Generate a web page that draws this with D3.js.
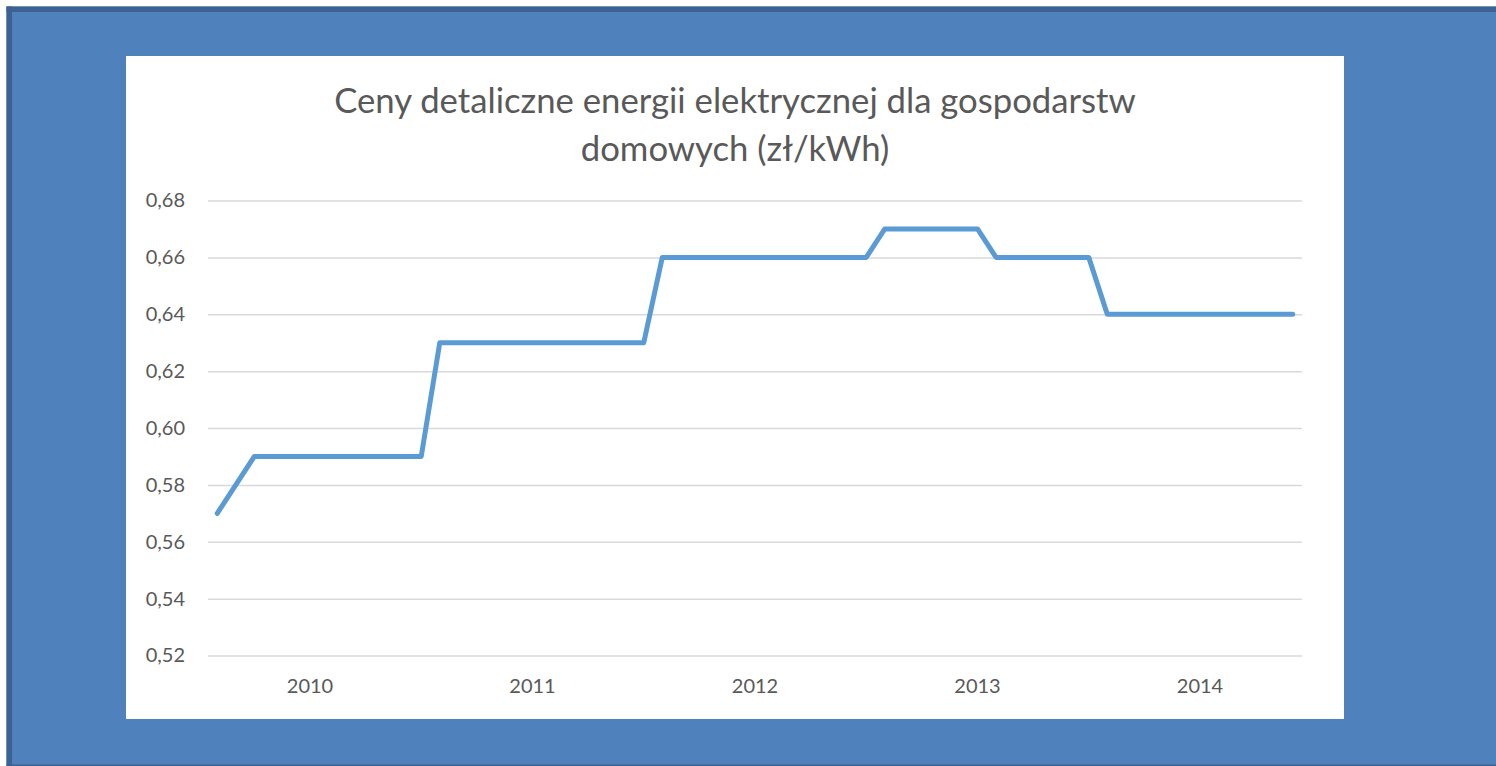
<!DOCTYPE html>
<html>
<head>
<meta charset="utf-8">
<script src="https://cdn.jsdelivr.net/npm/d3@7"></script>
<style>
  html, body { margin: 0; padding: 0; background: #ffffff; }
  svg { display: block; }
</style>
</head>
<body>
<svg id="chart" width="1496" height="766"></svg>
<script>
// ---- data ----
const titleLines = ["Ceny detaliczne energii elektrycznej dla gospodarstw", "domowych (zł/kWh)"];

// monthly categories (Jan 2010 .. Nov 2014); only one row per year carries a label
const categories = [
  "", "", "", "", "", "2010", "", "", "", "", "", "",
  "", "", "", "", "", "2011", "", "", "", "", "", "",
  "", "", "", "", "", "2012", "", "", "", "", "", "",
  "", "", "", "", "", "2013", "", "", "", "", "", "",
  "", "", "", "", "", "2014", "", "", "", "", ""
];

const prices = [
  0.57, 0.58, 0.59, 0.59, 0.59, 0.59, 0.59, 0.59, 0.59, 0.59, 0.59, 0.59,
  0.63, 0.63, 0.63, 0.63, 0.63, 0.63, 0.63, 0.63, 0.63, 0.63, 0.63, 0.63,
  0.66, 0.66, 0.66, 0.66, 0.66, 0.66, 0.66, 0.66, 0.66, 0.66, 0.66, 0.66,
  0.67, 0.67, 0.67, 0.67, 0.67, 0.67, 0.66, 0.66, 0.66, 0.66, 0.66, 0.66,
  0.64, 0.64, 0.64, 0.64, 0.64, 0.64, 0.64, 0.64, 0.64, 0.64, 0.64
];

const yTicks = [0.52, 0.54, 0.56, 0.58, 0.60, 0.62, 0.64, 0.66, 0.68];

// ---- drawing ----
const svg = d3.select("#chart");
const FONT = "Lato, 'Open Sans', 'Noto Sans', sans-serif";
const TEXT = "#595959";

// slide background
svg.append("rect").attr("x", 6.5).attr("y", 6.5).attr("width", 1496 - 6.5).attr("height", 766 - 6.5)
  .attr("fill", "#4F81BD");
svg.append("rect").attr("x", 6.5).attr("y", 6.5).attr("width", 1496 - 6.5).attr("height", 5.5)
  .attr("fill", "#3C6291");
svg.append("rect").attr("x", 6.5).attr("y", 6.5).attr("width", 5.5).attr("height", 766 - 6.5)
  .attr("fill", "#3C6291");
svg.append("rect").attr("x", 6.5).attr("y", 764.5).attr("width", 1496 - 6.5).attr("height", 1.5)
  .attr("fill", "#3C6291");

// chart area
svg.append("rect").attr("x", 126).attr("y", 56).attr("width", 1218).attr("height", 663)
  .attr("fill", "#ffffff");

const x = d3.scaleBand().domain(d3.range(prices.length)).range([208, 1302]).padding(0);
const y = d3.scaleLinear().domain([0.52, 0.68]).range([655.5, 200.5]);

// gridlines
const yAxis = d3.axisLeft(y).tickValues(yTicks).tickSize(-(1302 - 208)).tickPadding(23)
  .tickFormat(d => d3.format(".2f")(d).replace(".", ","));
const gy = svg.append("g").attr("transform", "translate(208,0)").call(yAxis);
gy.select(".domain").remove();
gy.selectAll(".tick line").attr("stroke", "#D9D9D9").attr("stroke-width", 1.5);
gy.selectAll(".tick text").attr("fill", TEXT).style("font-family", FONT).style("font-size", "20px");

// x axis labels
const xAxis = d3.axisBottom(x).tickSize(0).tickPadding(0).tickFormat(i => categories[i]);
const gx = svg.append("g").attr("transform", "translate(0,655.5)").call(xAxis);
gx.select(".domain").remove();
gx.selectAll(".tick text").attr("fill", TEXT).style("font-family", FONT).style("font-size", "20px")
  .attr("dy", null).attr("y", 37);

// line
const line = d3.line().x((d, i) => x(i) + x.bandwidth() / 2).y(d => y(d));
svg.append("path").datum(prices).attr("d", line)
  .attr("fill", "none").attr("stroke", "#5B9BD5").attr("stroke-width", 5)
  .attr("stroke-linejoin", "round").attr("stroke-linecap", "round");

// title
const title = svg.append("text").attr("text-anchor", "middle").attr("fill", TEXT)
  .style("font-family", FONT).style("font-size", "36px");
title.selectAll("tspan").data(titleLines).enter().append("tspan")
  .attr("x", 735).attr("y", (d, i) => 113 + i * 48).text(d => d);
// fit first line to reference width
const w = title.select("tspan").node().getComputedTextLength();
const fs = Math.max(28, Math.min(40, 36 * 802 / w));
title.style("font-size", fs + "px");
</script>
</body>
</html>
